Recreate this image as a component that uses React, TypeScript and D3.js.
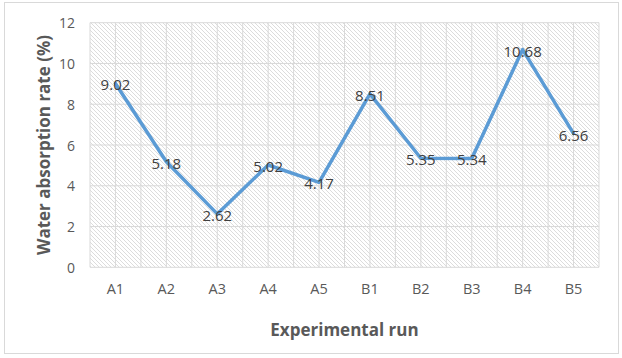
import React from "react";
import * as d3 from "d3";

const categories = ["A1", "A2", "A3", "A4", "A5", "B1", "B2", "B3", "B4", "B5"];
const values = [9.02, 5.18, 2.62, 5.02, 4.17, 8.51, 5.35, 5.34, 10.68, 6.56];
const yTicks = [0, 2, 4, 6, 8, 10, 12];

const W = 622;
const H = 358;
const plot = { left: 90, right: 599, top: 22.7, bottom: 267.3 };
const FONT = "'Open Sans', Lato, 'Liberation Sans', sans-serif";

export default function App() {
  const x = d3.scaleBand<string>().domain(categories).range([plot.left, plot.right]).padding(0);
  const y = d3.scaleLinear().domain([0, 12]).range([plot.bottom, plot.top]);
  const bw = x.bandwidth();
  const cx = (c: string) => (x(c) as number) + bw / 2;

  const line = d3
    .line<number>()
    .x((_, i) => cx(categories[i]))
    .y((d) => y(d));

  const vLines: number[] = [];
  categories.forEach((c) => {
    vLines.push(x(c) as number);
    vLines.push(cx(c));
  });
  vLines.push(plot.right);

  return (
    <svg
      width={W}
      height={H}
      style={{ position: "absolute", left: 0, top: 0, background: "#fff" }}
      fontFamily={FONT}
    >
      <defs>
        <pattern id="hatch" width="4" height="4" patternUnits="userSpaceOnUse">
          <rect width="4" height="4" fill="#ffffff" />
          <path d="M-1,-1 L5,5 M-1,3 L1,5 M3,-1 L5,1" stroke="#dcdcdc" strokeWidth="1" />
        </pattern>
      </defs>
      <rect x={4.5} y={2.5} width={614} height={351} fill="#fff" stroke="#d9d9d9" strokeWidth={1} />
      <rect
        x={plot.left}
        y={plot.top}
        width={plot.right - plot.left}
        height={plot.bottom - plot.top}
        fill="url(#hatch)"
      />
      {vLines.map((v, i) => (
        <line key={"v" + i} x1={v} x2={v} y1={plot.top} y2={plot.bottom} stroke="#d9d9d9" strokeWidth={1} />
      ))}
      {yTicks.map((t) => (
        <line key={"h" + t} x1={plot.left} x2={plot.right} y1={y(t)} y2={y(t)} stroke="#d9d9d9" strokeWidth={1} />
      ))}
      {yTicks.map((t) => (
        <text
          key={"yt" + t}
          x={75}
          y={y(t)}
          textAnchor="end"
          dominantBaseline="central"
          fontSize={14}
          fill="#595959"
        >
          {t}
        </text>
      ))}
      {categories.map((c) => (
        <text
          key={"xt" + c}
          x={cx(c)}
          y={288}
          textAnchor="middle"
          dominantBaseline="central"
          fontSize={14.5}
          fill="#595959"
        >
          {c}
        </text>
      ))}
      <path d={line(values) || ""} fill="none" stroke="#5B9BD5" strokeWidth={3.5} strokeLinejoin="round" strokeLinecap="round" />
      {values.map((v, i) => (
        <text
          key={"dl" + i}
          x={cx(categories[i])}
          y={y(v) + 1}
          textAnchor="middle"
          dominantBaseline="central"
          fontSize={15}
          fill="#404040"
        >
          {v.toFixed(2)}
        </text>
      ))}
      <text
        transform={`translate(43,${(plot.top + plot.bottom) / 2}) rotate(-90)`}
        textAnchor="middle"
        dominantBaseline="central"
        fontSize={17}
        fontWeight="bold"
        fill="#595959"
      >
        Water absorption rate (%)
      </text>
      <text
        x={(plot.left + plot.right) / 2}
        y={329}
        textAnchor="middle"
        dominantBaseline="central"
        fontSize={17}
        fontWeight="bold"
        fill="#595959"
      >
        Experimental run
      </text>
    </svg>
  );
}
